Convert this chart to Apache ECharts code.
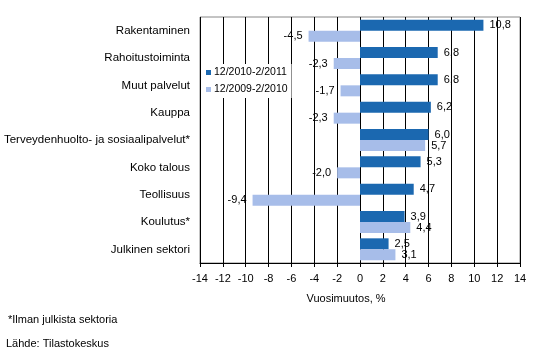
<!DOCTYPE html>
<html><head><meta charset="utf-8">
<script src="https://cdn.jsdelivr.net/npm/echarts@6/dist/echarts.min.js"></script>
<style>html,body{margin:0;padding:0;background:#fff}#c{width:541px;height:357px}</style>
</head><body><div id="c"></div>
<script>
const categories = ["Rakentaminen","Rahoitustoiminta","Muut palvelut","Kauppa","Terveydenhuolto- ja sosiaalipalvelut*","Koko talous","Teollisuus","Koulutus*","Julkinen sektori"];
const seriesNames = ["12/2010-2/2011","12/2009-2/2010"];
const values2011 = [10.8,6.8,6.8,6.2,6.0,5.3,4.7,3.9,2.5];
const values2010 = [-4.5,-2.3,-1.7,-2.3,5.7,-2.0,-9.4,4.4,3.1];
const xTicks = {min:-14,max:14,interval:2};
const axisTitle = "Vuosimuutos, %";
const footnote = "*Ilman julkista sektoria";
const source = "Lähde: Tilastokeskus";

const FONT = "Liberation Sans";
const fmt = v => v.toFixed(1).replace('.', ',');
function mkData(arr){
  return arr.map(v => ({value:v, label:{position: v<0?'left':'right'}}));
}
const chart = echarts.init(document.getElementById('c'), null, {renderer:'canvas'});
chart.setOption({
  animation:false,
  textStyle:{fontFamily:FONT},
  grid:{left:200,right:21,top:17,bottom:94,show:true,borderColor:'#888',borderWidth:1,backgroundColor:'transparent'},
  legend:{
    orient:'vertical',left:202,top:64,
    itemWidth:5,itemHeight:5,itemGap:6,
    padding:[3,4,3,4],
    backgroundColor:'#fff',
    icon:'rect',
    textStyle:{fontFamily:FONT,fontSize:10.5,color:'#000',padding:[0,0,0,-2]},
    data:seriesNames
  },
  xAxis:{
    type:'value',min:xTicks.min,max:xTicks.max,interval:xTicks.interval,
    axisLine:{show:true,onZero:false,lineStyle:{color:'#000',width:1}},
    axisTick:{show:true,length:4,lineStyle:{color:'#000'}},
    axisLabel:{color:'#000',fontSize:11,fontFamily:FONT,margin:10},
    splitLine:{show:true,lineStyle:{color:'#000',width:1}},
    name:axisTitle,nameLocation:'middle',nameGap:30,
    nameTextStyle:{color:'#000',fontSize:11,fontFamily:FONT,padding:[0,28,0,0]}
  },
  yAxis:{
    type:'category',data:categories,inverse:true,
    axisLine:{show:false},axisTick:{show:false},
    axisLabel:{color:'#000',fontSize:11.5,fontFamily:FONT,margin:10}
  },
  graphic:[
    {type:'text',left:8,top:314,style:{text:footnote,fontSize:11,fontFamily:FONT,fill:'#000'}},
    {type:'text',left:6,top:338,style:{text:source,fontSize:11,fontFamily:FONT,fill:'#000'}}
  ],
  series:[
    {name:seriesNames[0],type:'bar',data:mkData(values2011),barWidth:11,barGap:'0%',barCategoryGap:'20%',
     itemStyle:{color:'#1b68b0'},
     label:{show:true,formatter:p=>fmt(p.value),distance:6,color:'#000',fontSize:11,fontFamily:FONT}},
    {name:seriesNames[1],type:'bar',data:mkData(values2010),barWidth:11,barGap:'0%',
     itemStyle:{color:'#a7bde9'},
     label:{show:true,formatter:p=>fmt(p.value),distance:6,color:'#000',fontSize:11,fontFamily:FONT}}
  ]
});
</script></body></html>
